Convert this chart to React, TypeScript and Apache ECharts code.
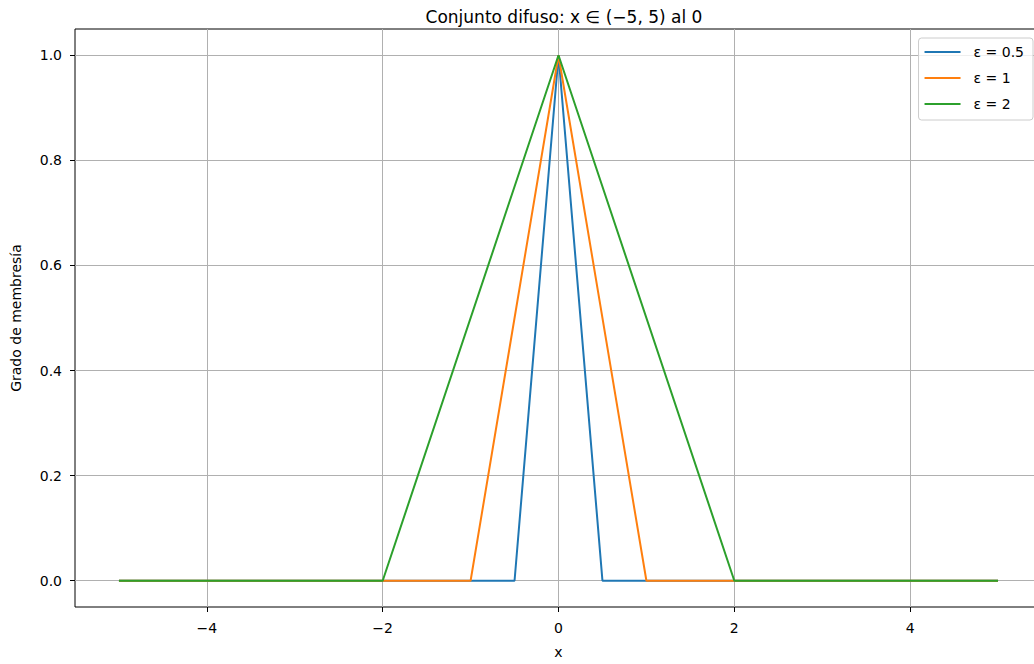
import React, { useEffect, useRef } from "react";
import * as echarts from "echarts";

const titleText = "Conjunto difuso: x ∈ (−5, 5) al 0";
const xTicks = [-4, -2, 0, 2, 4];
const yTicks = [0, 0.2, 0.4, 0.6, 0.8, 1.0];
const seriesNames = ["ε = 0.5", "ε = 1", "ε = 2"];
const seriesColors = ["#1f77b4", "#ff7f0e", "#2ca02c"];
const xBlue = [-5, -0.5, 0, 0.5, 5];
const yBlue = [0, 0, 1, 0, 0];
const xOrange = [-5, -1, 0, 1, 5];
const yOrange = [0, 0, 1, 0, 0];
const xGreen = [-5, -2, 0, 2, 5];
const yGreen = [0, 0, 1, 0, 0];

const FONT = "DejaVu Sans";
const minus = (s: string) => s.replace("-", "\u2212");

export default function App() {
  const ref = useRef<HTMLDivElement>(null);
  useEffect(() => {
    if (!ref.current) return;
    const chart = echarts.init(ref.current, null, { renderer: "svg" });
    const pairs = (xs: number[], ys: number[]) => xs.map((x, i) => [x, ys[i]]);
    const data = [pairs(xBlue, yBlue), pairs(xOrange, yOrange), pairs(xGreen, yGreen)];
    chart.setOption({
      animation: false,
      backgroundColor: "#ffffff",
      textStyle: { fontFamily: FONT },
      title: {
        text: titleText,
        left: 559,
        textAlign: "center",
        top: 3,
        textStyle: { fontFamily: FONT, fontSize: 17, fontWeight: "normal", color: "#000" },
      },
      legend: {
        orient: "vertical",
        right: 10,
        top: 38,
        icon: "rect",
        itemWidth: 36,
        itemHeight: 2,
        itemGap: 10,
        padding: [6, 9, 8, 6],
        borderColor: "#cccccc",
        borderWidth: 1,
        borderRadius: 3,
        backgroundColor: "rgba(255,255,255,0.8)",
        textStyle: { fontFamily: FONT, fontSize: 14, color: "#000", lineHeight: 16, padding: [0, 0, 0, 8] },
        data: seriesNames,
      },
      grid: {
        left: 75,
        top: 29,
        right: 1,
        bottom: 57,
        show: true,
        borderColor: "#000",
        borderWidth: 1,
        backgroundColor: "transparent",
      },
      xAxis: {
        type: "value",
        min: -5.5,
        max: 5.5,
        name: "x",
        nameLocation: "middle",
        nameGap: 38,
        nameTextStyle: { fontFamily: FONT, fontSize: 14, color: "#000" },
        axisLine: { show: false, onZero: false },
        axisTick: { show: true, length: 5, customValues: xTicks, lineStyle: { color: "#000" } },
        axisLabel: {
          customValues: xTicks,
          margin: 14,
          fontFamily: FONT,
          fontSize: 14,
          color: "#000",
          formatter: (v: number) => minus(String(v)),
        },
        splitLine: { show: true, lineStyle: { color: "#b0b0b0", width: 1 } },
      },
      yAxis: {
        type: "value",
        min: -0.05,
        max: 1.05,
        name: "Grado de membresía",
        nameLocation: "middle",
        nameGap: 52,
        nameTextStyle: { fontFamily: FONT, fontSize: 14, color: "#000" },
        axisLine: { show: false, onZero: false },
        axisTick: { show: true, length: 5, customValues: yTicks, lineStyle: { color: "#000" } },
        axisLabel: {
          customValues: yTicks,
          margin: 13,
          fontFamily: FONT,
          fontSize: 14,
          color: "#000",
          formatter: (v: number) => v.toFixed(1),
        },
        splitLine: { show: true, lineStyle: { color: "#b0b0b0", width: 1 } },
      },
      series: seriesNames.map((name, i) => ({
        name,
        type: "line",
        data: data[i],
        symbol: "none",
        color: seriesColors[i],
        lineStyle: { width: 2, color: seriesColors[i] },
        z: 3 + i,
      })),
    });
    return () => chart.dispose();
  }, []);
  return (
    <div
      style={{ position: "fixed", left: 0, top: 0, width: 1034, height: 664, overflow: "hidden", background: "#fff" }}
    >
      <div ref={ref} style={{ position: "absolute", left: 0, top: 0, width: 1043, height: 664 }} />
    </div>
  );
}
